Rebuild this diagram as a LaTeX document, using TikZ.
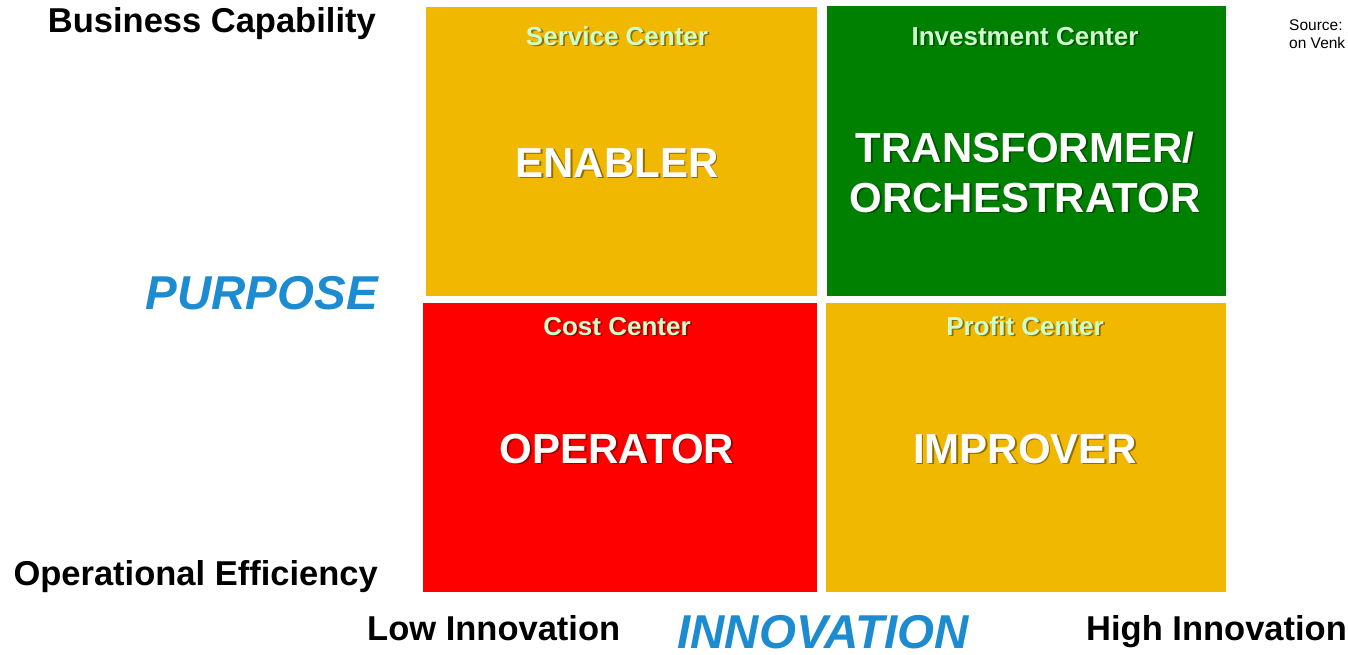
\documentclass[tikz,border=0pt]{standalone}
\usepackage{fontspec}
\setmainfont{Liberation Sans}
\usetikzlibrary{calc}

\definecolor{amber}{RGB}{240,184,0}
\definecolor{leafgreen}{RGB}{0,128,0}
\definecolor{alarmred}{RGB}{255,0,0}
\definecolor{mint}{RGB}{204,255,204}
\definecolor{axisblue}{RGB}{28,139,207}

\newcommand{\pxfont}[2]{\fontsize{#1}{#2}\selectfont}
% text with a soft drop shadow: name, position, style, text
\newcommand{\shadowed}[4]{%
  \node (#1-sh) [#3, text=black, opacity=.4] at ($(#2)+(1.8,1.8)$) {#4};
  \node (#1) [#3] at (#2) {#4};}

\begin{document}
\begin{tikzpicture} [x=1pt, y=-1pt, inner sep=0pt,
    quad/.style = {rectangle, inner sep=0pt},
    tag/.style = {anchor=base, text=mint, font=\bfseries\pxfont{26}{30}},
    role/.style = {anchor=base, text=white, align=center, font=\bfseries\pxfont{42}{50}},
    axis/.style = {font=\bfseries\pxfont{34.5}{40}},
    title/.style = {text=axisblue, font=\bfseries\itshape\pxfont{47.5}{54}}]
    \useasboundingbox (0,0) rectangle (1348,654);

    % the four quadrants
    \node (service) [quad, fill=amber, minimum width=391pt, minimum height=289pt] at (621.5,151.5) {};
    \node (invest) [quad, fill=leafgreen, minimum width=399pt, minimum height=290pt] at (1026.5,151) {};
    \node (cost) [quad, fill=alarmred, minimum width=394pt, minimum height=289pt] at (620,447.5) {};
    \node (profit) [quad, fill=amber, minimum width=400pt, minimum height=289pt] at (1026,447.5) {};

    \shadowed{servicetag}{617,45}{tag}{Service Center}
    \shadowed{investtag}{1025,45}{tag}{Investment Center}
    \shadowed{costtag}{617,335}{tag}{Cost Center}
    \shadowed{profittag}{1025,335}{tag}{Profit Center}

    % base of a two-line node is its last line
    \shadowed{enabler}{617,177}{role}{ENABLER}
    \shadowed{transformer}{1025,212}{role}{TRANSFORMER/\\ORCHESTRATOR}
    \shadowed{operator}{617,463}{role}{OPERATOR}
    \shadowed{improver}{1025,463}{role}{IMPROVER}

    % axes
    \node (capability) [axis, anchor=base east] at (376,32) {Business Capability};
    \node (efficiency) [axis, anchor=base east] at (378,585) {Operational Efficiency};
    \node (purpose) [title, anchor=base east] at (378,309) {PURPOSE};
    \node (low) [axis, anchor=base west] at (367,640) {Low Innovation};
    \node (high) [axis, anchor=base west] at (1086,640) {High Innovation};
    \node (innovation) [title, text depth=0pt, anchor=base] at (823,648) {INNOVATION};

    \node (source) [anchor=base west, align=left, font=\pxfont{15.5}{18}] at (1289,48) {Source:\\on Venk};
\end{tikzpicture}
\end{document}
